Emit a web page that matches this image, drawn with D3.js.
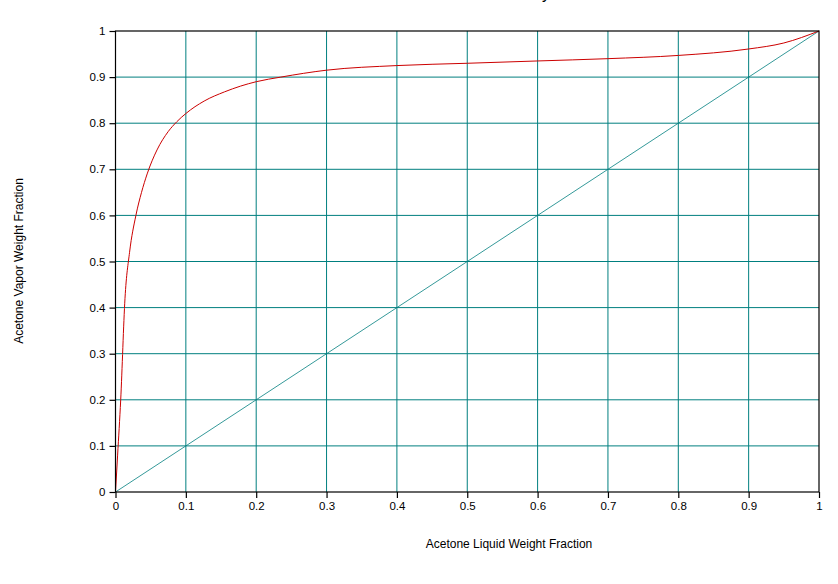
<!DOCTYPE html>
<html>
<head>
<meta charset="utf-8">
<script src="https://cdn.jsdelivr.net/npm/d3@7.9.0/dist/d3.min.js"></script>
<style>
  body { margin: 0; background: #fff; }
  svg { display: block; }
  text { font-family: Arial, "Liberation Sans", sans-serif; fill: #000; }
</style>
</head>
<body>
<svg width="838" height="584"></svg>
<script>
const liquidFrac = [0, 0.003, 0.0074, 0.0135, 0.02, 0.029, 0.037, 0.045, 0.059, 0.075, 0.087, 0.1, 0.126, 0.155, 0.2, 0.235, 0.3, 0.4, 0.5, 0.6, 0.7, 0.8, 0.9, 0.95, 1];
const vaporFrac  = [0, 0.08, 0.2, 0.42, 0.52, 0.6, 0.65, 0.69, 0.742, 0.782, 0.803, 0.821, 0.848, 0.868, 0.89, 0.9, 0.915, 0.925, 0.93, 0.935, 0.94, 0.947, 0.961, 0.974, 1];
const tickValues = d3.range(0, 11).map(i => i / 10);
const tickLabels = ['0', '0.1', '0.2', '0.3', '0.4', '0.5', '0.6', '0.7', '0.8', '0.9', '1'];

const svg = d3.select('svg');
const x = d3.scaleLinear().domain([0, 1]).range([115.5, 819]);
const y = d3.scaleLinear().domain([0, 1]).range([492, 31]);
const teal = '#007f7f';

// title sits above the frame, only the tail shows
svg.append('text')
  .attr('x', 550).attr('y', -1)
  .attr('text-anchor', 'end')
  .style('font-size', '16px')
  .text('Acetone - Water Binary');

// grid
svg.append('g').selectAll('line')
  .data(tickValues.slice(1, -1))
  .join('line')
  .attr('x1', d => x(d)).attr('x2', d => x(d))
  .attr('y1', y(0)).attr('y2', y(1))
  .attr('stroke', teal).attr('stroke-width', 1);
svg.append('g').selectAll('line')
  .data(tickValues.slice(1, -1))
  .join('line')
  .attr('y1', d => y(d)).attr('y2', d => y(d))
  .attr('x1', x(0)).attr('x2', x(1))
  .attr('stroke', teal).attr('stroke-width', 1);

// diagonal y = x
svg.append('line')
  .attr('x1', x(0)).attr('y1', y(0))
  .attr('x2', x(1)).attr('y2', y(1))
  .attr('stroke', teal).attr('stroke-width', 0.8);

// equilibrium curve
const line = d3.line()
  .x((d, i) => x(liquidFrac[i]))
  .y(d => y(d))
  .curve(d3.curveMonotoneX);
svg.append('path')
  .attr('d', line(vaporFrac))
  .attr('fill', 'none')
  .attr('stroke', '#cc0000')
  .attr('stroke-width', 1);

// frame
svg.append('rect')
  .attr('x', x(0)).attr('y', y(1))
  .attr('width', x(1) - x(0)).attr('height', y(0) - y(1))
  .attr('fill', 'none').attr('stroke', '#000').attr('stroke-width', 1.2);

// axes
const xAxis = d3.axisBottom(x).tickValues(tickValues)
  .tickFormat((d, i) => tickLabels[i]).tickSize(6).tickPadding(4);
const yAxis = d3.axisLeft(y).tickValues(tickValues)
  .tickFormat((d, i) => tickLabels[i]).tickSize(6).tickPadding(4);

const gx = svg.append('g').attr('transform', `translate(0,${y(0)})`).call(xAxis);
const gy = svg.append('g').attr('transform', `translate(${x(0)},0)`).call(yAxis);
[gx, gy].forEach(g => {
  g.select('.domain').remove();
  g.selectAll('line').attr('stroke', '#000').attr('stroke-width', 1.2);
  g.selectAll('text').style('font-size', '11.5px').attr('font-family', 'Arial, sans-serif');
});

// axis titles
svg.append('text')
  .attr('x', 509).attr('y', 548)
  .attr('text-anchor', 'middle')
  .style('font-size', '12px')
  .text('Acetone Liquid Weight Fraction');
svg.append('text')
  .attr('transform', 'translate(23,261) rotate(-90)')
  .attr('text-anchor', 'middle')
  .style('font-size', '12px')
  .text('Acetone Vapor Weight Fraction');
</script>
</body>
</html>
